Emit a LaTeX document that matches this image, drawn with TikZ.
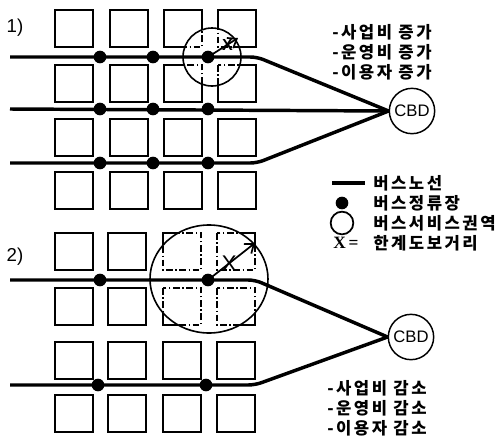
\documentclass[tikz,border=0pt]{standalone}
\usepackage{fontspec}
\setmainfont{Noto Sans CJK KR}
\newfontfamily\latin{Liberation Sans}
\newfontfamily\latinserif{Liberation Serif}
\usetikzlibrary{arrows.meta}
\begin{document}
\begin{tikzpicture}[x=0.75pt,y=-0.75pt,
  blk/.style={line width=0.8pt},
  blkdash/.style={line width=0.8pt,dash pattern=on 5pt off 2pt on 1pt off 2pt},
  busline/.style={line width=2.6pt,rounded corners=5pt},
  stop/.style={circle,fill=black,inner sep=0pt,minimum size=9.5pt},
  cbd/.style={circle,draw,line width=1.1pt,inner sep=0pt,minimum size=34pt,font=\latin\fontsize{12.5}{12.5}\selectfont},
  ktext/.style={anchor=west,inner sep=0pt,font=\bfseries\addfontfeatures{LetterSpace=15}\fontsize{12.5}{12.5}\selectfont},
  lbl/.style={inner sep=0pt,font=\latin\fontsize{14}{14}\selectfont},
  svc/.style={line width=1.2pt},
  reach/.style={line width=1.3pt,-{Straight Barb[length=6pt,width=9pt,line width=1.3pt]}}
]
\useasboundingbox (0,0) rectangle (501,436);

% ---------- panel 1 ----------
\foreach \cx in {55,110,164,218}
  \foreach \ry in {10,65,119,172}
    \draw[blk] (\cx,\ry) rectangle ++(38,37);
\fill[white] (212,57) circle [radius=21.75pt];
\begin{scope}
  \clip (212,57) circle [radius=21.75pt];
  \foreach \cx in {164,218}
    \foreach \ry in {10,65}
      \draw[blkdash] (\cx,\ry) rectangle ++(38,37);
\end{scope}
\draw[svc] (212,57) circle [radius=21.75pt];

\node[lbl] (n1) at (15,28) {1)};
\node[cbd] (cbd1) at (412,111) {CBD};

\coordinate (a1) at (10,57);  \coordinate (b1) at (257,57);
\coordinate (a2) at (10,109);
\coordinate (a3) at (10,163); \coordinate (b3) at (257,163);
\draw[busline] (a1) -- (b1) -- (cbd1.west);
\draw[busline] (a2) -- (cbd1.west);
\draw[busline] (a3) -- (b3) -- (cbd1.west);
\node[stop] (p11) at (100,57) {};
\node[stop] (p12) at (153,57) {};
\node[stop] (p13) at (208,57) {};
\node[stop] (p21) at (100,109) {};
\node[stop] (p22) at (153,109) {};
\node[stop] (p23) at (208,109) {};
\node[stop] (p31) at (100,163) {};
\node[stop] (p32) at (153,163) {};
\node[stop] (p33) at (208,163) {};
\coordinate (e1) at (238,38);
\draw[reach] (p13.center) -- (e1) node[pos=0.65,inner sep=0pt,font=\latin\bfseries\fontsize{12}{12}\selectfont] {X};

\node[ktext] (t1) at (332,32) {-사업비 증가};
\node[ktext] (t2) at (332,52) {-운영비 증가};
\node[ktext] (t3) at (332,72) {-이용자 증가};

% ---------- legend ----------
\coordinate (l1) at (332,183); \coordinate (l2) at (365,183);
\draw[line width=2.6pt] (l1) -- (l2);
\node[ktext] (g1) at (373,183) {버스노선};
\node[stop] (gd) at (342,203) {};
\node[ktext] (g2) at (373,203) {버스정류장};
\node[circle,draw,line width=1.3pt,minimum size=17pt,inner sep=0pt] (gc) at (342,223) {};
\node[ktext] (g3) at (373,223) {버스서비스권역};
\node[anchor=west,inner sep=0pt,font=\latinserif\bfseries\fontsize{13}{13}\selectfont] (gx) at (333,243) {X\,=};
\node[ktext] (g4) at (373,243) {한계도보거리};

% ---------- panel 2 ----------
\foreach \cx in {55,108,163,217}
  \foreach \ry in {233,288,342,395}
    \draw[blk] (\cx,\ry) rectangle ++(38,37);
\fill[white] (209,279) ellipse [x radius=44.25pt,y radius=40.5pt];
\begin{scope}
  \clip (209,279) ellipse [x radius=44.25pt,y radius=40.5pt];
  \foreach \cx in {163,217}
    \foreach \ry in {233,288}
      \draw[blkdash] (\cx,\ry) rectangle ++(38,37);
\end{scope}
\draw[svc] (209,279) ellipse [x radius=44.25pt,y radius=40.5pt];

\node[lbl] (n2) at (15,257) {2)};
\node[cbd] (cbd2) at (411,337) {CBD};

\coordinate (c1) at (10,280);  \coordinate (d1) at (255,280);
\coordinate (c2) at (10,385);  \coordinate (d2) at (255,385);
\draw[busline] (c1) -- (d1) -- (cbd2.west);
\draw[busline] (c2) -- (d2) -- (cbd2.west);
\node[stop] (q11) at (100,280) {};
\node[stop] (q12) at (208,280) {};
\node[stop] (q21) at (98,385) {};
\node[stop] (q22) at (206,385) {};
\coordinate (e2) at (255,243);
\draw[reach] (q12.center) -- (e2) node[pos=0.45,inner sep=0pt,font=\latin\fontsize{17}{17}\selectfont] {X};

\node[ktext] (u1) at (327,388) {-사업비 감소};
\node[ktext] (u2) at (327,408) {-운영비 감소};
\node[ktext] (u3) at (327,428) {-이용자 감소};
\end{tikzpicture}
\end{document}
